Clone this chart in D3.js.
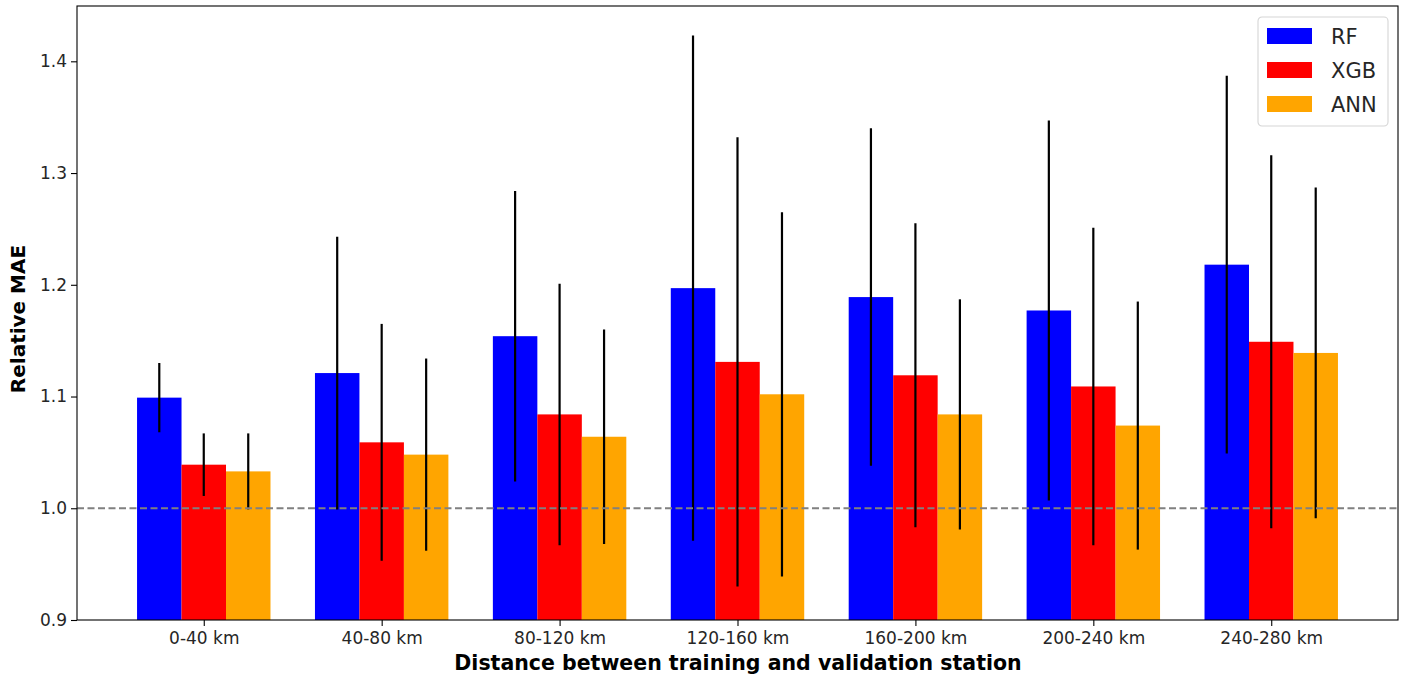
<!DOCTYPE html>
<html><head><meta charset="utf-8">
<script src="https://cdn.jsdelivr.net/npm/d3@7"></script>
<style>body{margin:0;background:#fff}svg{display:block}text{font-family:"DejaVu Sans",sans-serif}</style>
</head><body><svg id="c" width="1407" height="677"></svg>
<script>
const categories = ["0-40 km","40-80 km","80-120 km","120-160 km","160-200 km","200-240 km","240-280 km"];
const models = ["RF","XGB","ANN"];
const colors = ["#0000ff","#ff0000","#ffa500"];
const rfMean  = [1.099, 1.121, 1.154, 1.197, 1.189, 1.177, 1.218];
const rfStd   = [0.031, 0.122, 0.130, 0.226, 0.151, 0.170, 0.169];
const xgbMean = [1.039, 1.059, 1.084, 1.131, 1.119, 1.109, 1.149];
const xgbStd  = [0.028, 0.106, 0.117, 0.201, 0.136, 0.142, 0.167];
const annMean = [1.033, 1.048, 1.064, 1.102, 1.084, 1.074, 1.139];
const annStd  = [0.034, 0.086, 0.096, 0.163, 0.103, 0.111, 0.148];
const yTicks = [0.9, 1.0, 1.1, 1.2, 1.3, 1.4];
const refLine = 1.0;

const means = [rfMean, xgbMean, annMean];
const stds = [rfStd, xgbStd, annStd];
const svg = d3.select("#c");
const L = 77, R = 1398, T = 6, B = 620;
const x = d3.scaleLinear().domain([-0.7125, categories.length - 1 + 0.7125]).range([L, R]);
const y = d3.scaleLinear().domain([0.9, 1.4495]).range([B, T]);
const bw = 0.25;

const g = svg.append("g");
models.forEach((m, k) => {
  const off = (k - 1) * bw;
  g.selectAll(null).data(categories).enter().append("rect")
    .attr("x", (d, i) => x(i + off - bw / 2))
    .attr("width", x(bw) - x(0))
    .attr("y", (d, i) => y(means[k][i]))
    .attr("height", (d, i) => B - y(means[k][i]))
    .attr("fill", colors[k]);
});
// reference line
svg.append("line").attr("x1", L).attr("x2", R).attr("y1", y(refLine)).attr("y2", y(refLine))
  .attr("stroke", "#808080").attr("stroke-width", 2).attr("stroke-dasharray", "7,3.5");
// error bars
models.forEach((m, k) => {
  const off = (k - 1) * bw;
  g.selectAll(null).data(categories).enter().append("line")
    .attr("x1", (d, i) => x(i + off)).attr("x2", (d, i) => x(i + off))
    .attr("y1", (d, i) => y(means[k][i] - stds[k][i]))
    .attr("y2", (d, i) => y(means[k][i] + stds[k][i]))
    .attr("stroke", "#000").attr("stroke-width", 2.2);
});
// axes
const xa = svg.append("g").attr("transform", `translate(0,${B})`)
  .call(d3.axisBottom(x).tickValues(d3.range(categories.length)).tickFormat(i => categories[i]).tickSize(6).tickPadding(6));
const ya = svg.append("g").attr("transform", `translate(${L},0)`)
  .call(d3.axisLeft(y).tickValues(yTicks).tickFormat(d3.format(".1f")).tickSize(6).tickPadding(4));
[xa, ya].forEach(a => {
  a.select(".domain").remove();
  a.selectAll("line").attr("stroke", "#000").attr("stroke-width", 1.1);
  a.selectAll("text").attr("font-size", 17).attr("fill", "#262626").attr("font-family", "DejaVu Sans");
});
svg.append("rect").attr("x", L).attr("y", T).attr("width", R - L).attr("height", B - T)
  .attr("fill", "none").attr("stroke", "#000").attr("stroke-width", 1.1);
// labels
svg.append("text").attr("x", (L + R) / 2 + 0.5).attr("y", 670).attr("text-anchor", "middle")
  .attr("font-size", 20.5).attr("font-weight", "bold").text("Distance between training and validation station");
svg.append("text").attr("transform", `translate(25,${(T + B) / 2 + 6}) rotate(-90)`).attr("text-anchor", "middle")
  .attr("font-size", 20).attr("font-weight", "bold").text("Relative MAE");
// legend
const lg = svg.append("g").attr("transform", "translate(1258,17)");
lg.append("rect").attr("width", 130).attr("height", 109).attr("rx", 4).attr("fill", "#fff")
  .attr("fill-opacity", 0.8).attr("stroke", "#d5d5d5").attr("stroke-width", 1.1);
models.forEach((m, k) => {
  lg.append("rect").attr("x", 9).attr("y", 11 + k * 34).attr("width", 45).attr("height", 16).attr("fill", colors[k]);
  lg.append("text").attr("x", 73).attr("y", 19 + k * 34).attr("dy", "0.36em").attr("font-size", 21).attr("fill", "#262626").text(m);
});
</script></body></html>
